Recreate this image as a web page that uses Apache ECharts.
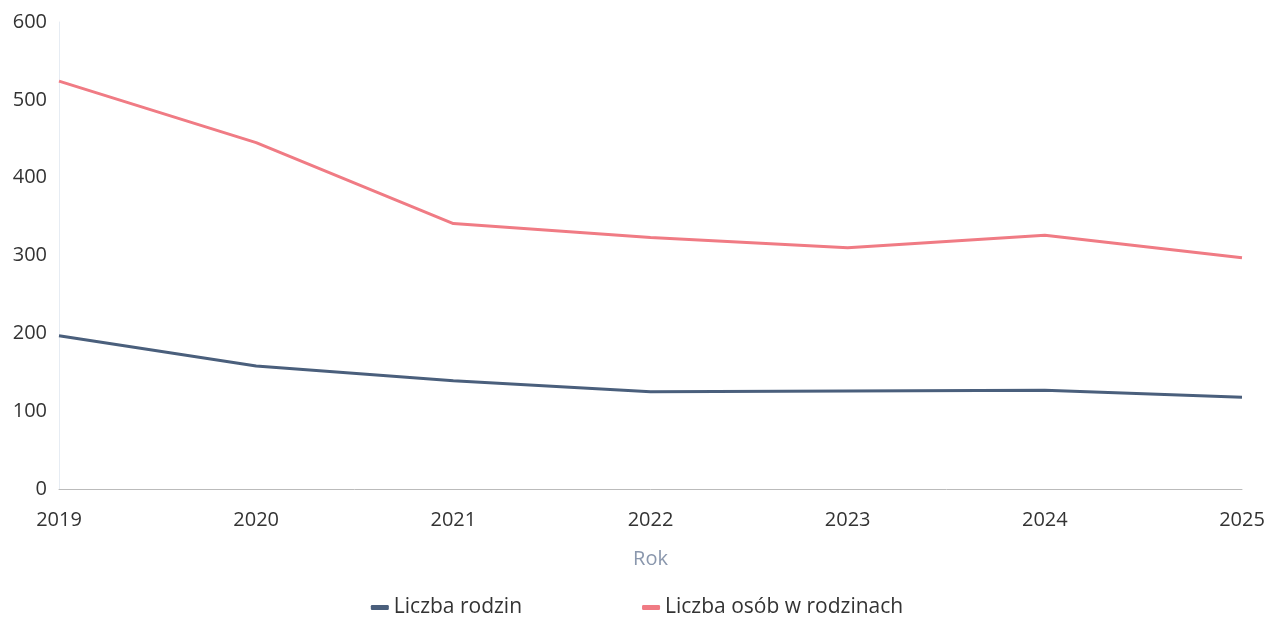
<!DOCTYPE html>
<html><head><meta charset="utf-8">
<script src="https://cdn.jsdelivr.net/npm/echarts@6/dist/echarts.min.js"></script>
<style>html,body{margin:0;padding:0;background:#fff}#c{width:1274px;height:620px}</style>
</head><body><div id="c"></div>
<script>
const categories = ['2019','2020','2021','2022','2023','2024','2025'];
const liczbaRodzin = [197, 158, 139, 125, 126, 127, 118];
const liczbaOsob = [524, 445, 341, 323, 310, 326, 297];
const yTicks = [0, 100, 200, 300, 400, 500, 600];

const chart = echarts.init(document.getElementById('c'));
chart.setOption({
  animation: false,
  textStyle: { fontFamily: 'Open Sans' },
  grid: { left: 59, right: 32, top: 22, bottom: 131, containLabel: false },
  legend: {
    top: 592, left: 'center', itemGap: 120, itemWidth: 18, itemHeight: 5,
    icon: 'roundRect',
    textStyle: { fontSize: 21, color: '#333', fontFamily: 'Open Sans' },
    data: ['Liczba rodzin', 'Liczba osób w rodzinach']
  },
  xAxis: {
    type: 'category', data: categories, boundaryGap: false,
    name: 'Rok', nameLocation: 'middle', nameGap: 60,
    nameTextStyle: { fontSize: 20, color: '#8a97ad' },
    axisLine: { lineStyle: { color: '#bbb' } },
    axisTick: { show: false },
    axisLabel: { fontSize: 20, color: '#333', margin: 21 }
  },
  yAxis: {
    type: 'value', min: 0, max: 600, interval: 100,
    axisLine: { show: true, lineStyle: { color: '#e6ecf3' } },
    splitLine: { show: false },
    axisTick: { show: false },
    axisLabel: { fontSize: 20, color: '#333', margin: 12,
      formatter: v => yTicks.includes(v) ? String(v) : '' }
  },
  series: [
    { name: 'Liczba rodzin', type: 'line', data: liczbaRodzin, symbol: 'none',
      lineStyle: { width: 3, color: '#4a5f7c' }, itemStyle: { color: '#4a5f7c' } },
    { name: 'Liczba osób w rodzinach', type: 'line', data: liczbaOsob, symbol: 'none',
      lineStyle: { width: 3, color: '#f07b84' }, itemStyle: { color: '#f07b84' } }
  ]
});
</script></body></html>
